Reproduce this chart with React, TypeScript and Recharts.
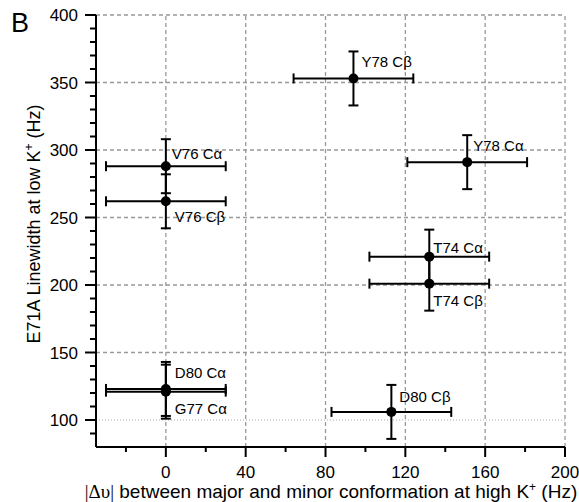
import { ErrorBar, ReferenceLine, Scatter, ScatterChart, XAxis, YAxis } from "recharts";

// E71A: linewidth at low K+ vs. major/minor shift at high K+
const pointLabels = ["Y78 Cβ", "Y78 Cα", "V76 Cα", "V76 Cβ", "T74 Cα", "T74 Cβ", "D80 Cα", "G77 Cα", "D80 Cβ"];
const shiftHz = [94, 151, 0, 0, 132, 132, 0, 0, 113];
const linewidthHz = [353, 291, 288, 262, 221, 201, 123, 121, 106];
const shiftErrHz = [30, 30, 30, 30, 30, 30, 30, 30, 30];
const linewidthErrHz = [20, 20, 20, 20, 20, 20, 20, 20, 20];

const xTicks = [-20, 0, 20, 40, 60, 80, 100, 120, 140, 160, 180, 200];
const xMajor = [0, 40, 80, 120, 160, 200];
const yTicks = [90, 100, 110, 120, 130, 140, 150, 160, 170, 180, 190, 200, 210, 220, 230, 240, 250, 260, 270, 280, 290, 300, 310, 320, 330, 340, 350, 360, 370, 380, 390, 400];
const yMajor = [100, 150, 200, 250, 300, 350, 400];
const yGrid = [150, 200, 250, 300, 350, 400];
const xDomain = [-35, 200];
const yDomain = [80, 400];

const data = pointLabels.map((name, i) => ({
  name,
  x: shiftHz[i],
  y: linewidthHz[i],
  ex: shiftErrHz[i],
  ey: linewidthErrHz[i],
}));

// hand-placed annotation offsets [dx, baseline dy] from the dot
const labelOffset: Record<string, [number, number]> = {
  "Y78 Cβ": [8, -11],
  "Y78 Cα": [6, -11],
  "V76 Cα": [6, -7],
  "V76 Cβ": [9, 21],
  "T74 Cα": [4, -4],
  "T74 Cβ": [4, 22],
  "D80 Cα": [9, -11],
  "G77 Cα": [9, 22],
  "D80 Cβ": [8, -10],
};

const FONT = '"Liberation Sans", Arial, Helvetica, sans-serif';
const SERIF = '"Liberation Serif", "Times New Roman", serif';
const TICK_SIZE = 10;
const TICK_MARGIN = 6;

function XTick({ x, y, payload }: any) {
  const v = payload.value;
  const major = xMajor.includes(v);
  const y0 = y - TICK_SIZE - TICK_MARGIN;
  return (
    <g>
      <line x1={x} x2={x} y1={y0} y2={y0 + (major ? 10 : 5)} stroke="#000" strokeWidth={2} />
      {major && (
        <text x={x} y={y0 + 31} textAnchor="middle" fontSize={17} fontFamily={FONT} fill="#000">
          {v}
        </text>
      )}
    </g>
  );
}

function YTick({ x, y, payload }: any) {
  const v = payload.value;
  const major = yMajor.includes(v);
  const x0 = x + TICK_SIZE + TICK_MARGIN;
  return (
    <g>
      <line x1={x0 - (major ? 11 : 6)} x2={x0} y1={y} y2={y} stroke="#000" strokeWidth={2} />
      {major && (
        <text x={x0 - 18} y={y + 6} textAnchor="end" fontSize={17} fontFamily={FONT} fill="#000">
          {v}
        </text>
      )}
    </g>
  );
}

function Point({ cx, cy, payload }: any) {
  const [dx, dy] = labelOffset[payload.name] ?? [6, -11];
  return (
    <g>
      <circle cx={cx} cy={cy} r={5} fill="#000" />
      <text x={cx + dx} y={cy + dy} fontSize={15} fontFamily={FONT} fill="#000">
        {payload.name}
      </text>
    </g>
  );
}

export default function App() {
  return (
    <div style={{ position: "absolute", left: 0, top: 0, width: 579, height: 502, background: "#fff" }}>
      <ScatterChart width={579} height={502} margin={{ top: 15, right: 14, bottom: 0, left: 0 }}>
        <XAxis
          type="number"
          dataKey="x"
          domain={xDomain}
          ticks={xTicks}
          interval={0}
          height={55}
          tickSize={TICK_SIZE}
          tickMargin={TICK_MARGIN}
          tickLine={false}
          axisLine={false}
          tick={<XTick />}
        />
        <YAxis
          type="number"
          dataKey="y"
          domain={yDomain}
          ticks={yTicks}
          interval={0}
          width={96}
          tickSize={TICK_SIZE}
          tickMargin={TICK_MARGIN}
          tickLine={false}
          axisLine={false}
          tick={<YTick />}
        />
        {xMajor.map((v) => (
          <ReferenceLine key={`vx${v}`} x={v} stroke="#999" strokeWidth={1.3} strokeDasharray="4 3" />
        ))}
        {yGrid.map((v) => (
          <ReferenceLine key={`hy${v}`} y={v} stroke="#999" strokeWidth={1.3} strokeDasharray="4 3" />
        ))}
        <ReferenceLine y={100} stroke="#aaa" strokeWidth={1} strokeDasharray="1 2" />
        {/* solid black axis lines */}
        <ReferenceLine x={xDomain[0]} stroke="#000" strokeWidth={2} />
        <ReferenceLine y={yDomain[0]} stroke="#000" strokeWidth={2} />
        <Scatter data={data} shape={<Point />} isAnimationActive={false}>
          <ErrorBar dataKey="ex" direction="x" width={5} stroke="#000" strokeWidth={2} />
          <ErrorBar dataKey="ey" direction="y" width={5} stroke="#000" strokeWidth={2} />
        </Scatter>
      </ScatterChart>
      <svg
        width={579}
        height={502}
        style={{ position: "absolute", left: 0, top: 0, pointerEvents: "none" }}
      >
        <text x={11} y={32} fontSize={27} fontFamily={FONT} fill="#000">
          B
        </text>
        <text transform="translate(40,224) rotate(-90)" textAnchor="middle" fontSize={18} fontFamily={FONT} fill="#000">
          E71A Linewidth at low K<tspan fontSize={12} dy={-7}>+</tspan>
          <tspan dy={7}> (Hz)</tspan>
        </text>
        <text x={331} y={498} textAnchor="middle" fontSize={19} fontFamily={FONT} fill="#000">
          <tspan fontFamily={SERIF}>|Δυ|</tspan> between major and minor conformation at high K
          <tspan fontSize={12} dy={-7}>+</tspan>
          <tspan dy={7}> (Hz)</tspan>
        </text>
      </svg>
    </div>
  );
}
